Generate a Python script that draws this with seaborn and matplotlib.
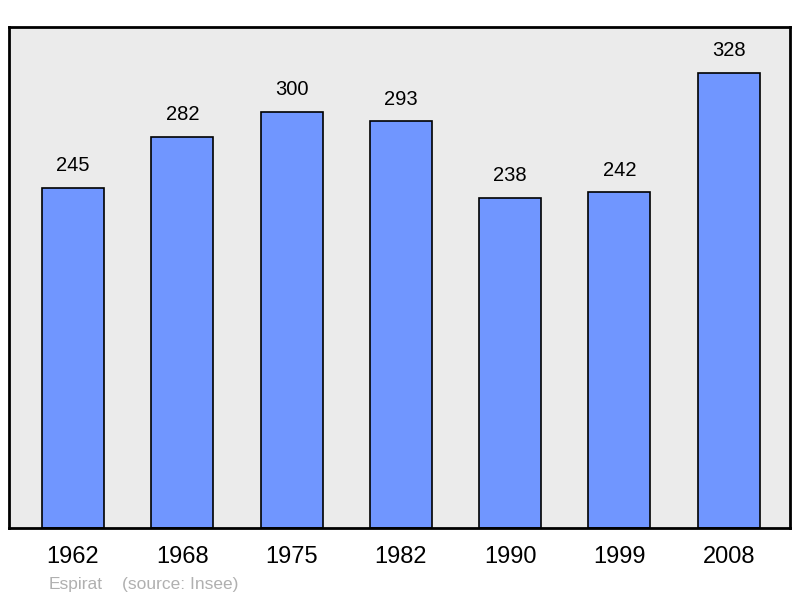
import matplotlib
matplotlib.use("Agg")
import matplotlib.pyplot as plt
import seaborn as sns
import pandas as pd

years = ["1962", "1968", "1975", "1982", "1990", "1999", "2008"]
population = [245, 282, 300, 293, 238, 242, 328]
commune = "Espirat"
source = "(source: Insee)"

sns.set_style("white")
plt.rcParams["font.family"] = ["Liberation Sans", "DejaVu Sans"]
plt.rcParams["text.color"] = "black"
plt.rcParams["xtick.color"] = "black"

df = pd.DataFrame({"year": years, "pop": population})

fig = plt.figure(figsize=(8, 5.98), dpi=100)
ax = fig.add_axes([9/800, (598-528)/598, 781/800, (528-27)/598])
ax.set_facecolor("#ebebeb")

sns.barplot(data=df, x="year", y="pop", ax=ax, color="#7096ff",
            saturation=1, width=0.567, edgecolor="black", linewidth=1.2)

ax.set_xlim(-0.585, 6.56)
ax.set_ylim(0, 361)
ax.set_xlabel("")
ax.set_ylabel("")
ax.set_yticks([])
ax.tick_params(axis="x", length=0, pad=13, labelsize=17, labelcolor="black")
for s in ax.spines.values():
    s.set_visible(True)
    s.set_linewidth(2)
    s.set_color("black")

for c in ax.containers:
    ax.bar_label(c, labels=[str(v) for v in population], padding=9,
                 fontsize=14.5, color="black")

fig.text(49/800, 1 - 584/598, commune, color="#b0b0b0", fontsize=12.5, va="center", ha="left")
fig.text(122/800, 1 - 584/598, source, color="#b0b0b0", fontsize=12.5, va="center", ha="left")

fig.savefig("out.png", dpi=100)
